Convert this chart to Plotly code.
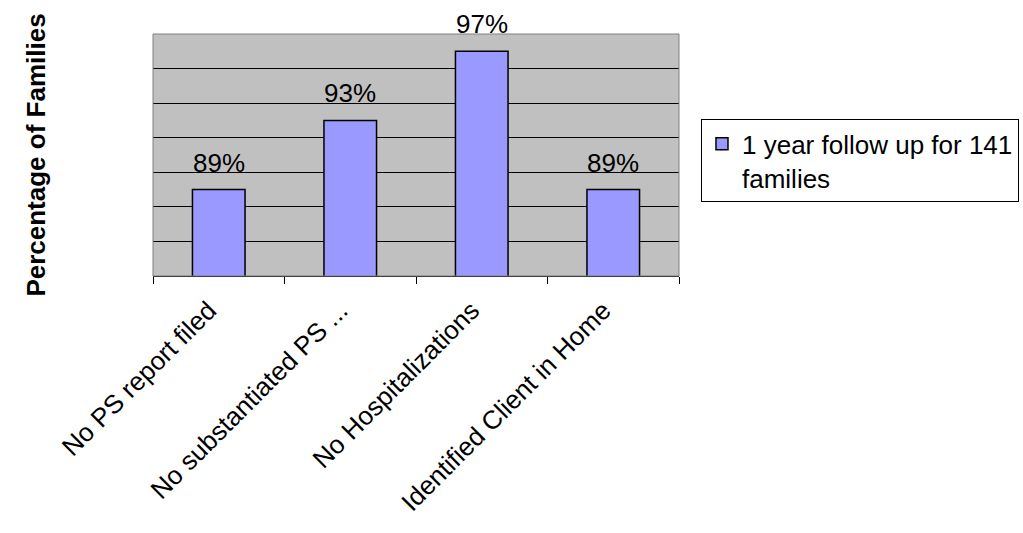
import plotly.graph_objects as go

categories = ["No PS report filed", "No substantiated PS ...", "No Hospitalizations", "Identified Client in Home"]
values = [89, 93, 97, 89]
series_name = "1 year follow up for 141<br>families"
y_title = "Percentage of Families"

FONT = "Liberation Sans, Arial, sans-serif"

fig = go.Figure()
fig.add_trace(go.Bar(
    x=categories, y=values, name=series_name,
    marker=dict(color="#9999FF", line=dict(color="black", width=1.5)),
    width=0.4, showlegend=True,
))

for c, v in zip(categories, values):
    fig.add_annotation(x=c, y=v, text=f"{v}%", showarrow=False,
                       yanchor="bottom", yshift=10,
                       font=dict(family=FONT, size=26, color="black"))

fig.update_layout(
    template="none",
    width=1023, height=533,
    margin=dict(l=153, r=344, t=34, b=257, autoexpand=False),
    paper_bgcolor="white", plot_bgcolor="#C0C0C0",
    font=dict(family=FONT, size=26, color="black"),
    bargap=0.6,
    showlegend=True,
    legend=dict(x=1.0418, y=0.6475, xanchor="left", yanchor="top",
                bordercolor="black", borderwidth=1, bgcolor="white",
                valign="top", font=dict(family=FONT, size=26, color="black")),
    xaxis=dict(tickangle=-45, tickson="boundaries", ticks="outside", ticklen=7,
               tickcolor="black", showline=True, linecolor="black", linewidth=1,
               showgrid=False, automargin=False,
               ticklabelstandoff=8, ticklabelshift=-10,
               tickfont=dict(family=FONT, size=26, color="black")),
    yaxis=dict(range=[84, 98], dtick=2, showticklabels=False, ticks="",
               showgrid=True, gridcolor="black", gridwidth=1, zeroline=False,
               showline=False, automargin=False,
               title=dict(text=f"<b>{y_title}</b>", standoff=98,
                          font=dict(family=FONT, size=26, color="black"))),
    shapes=[dict(type="rect", xref="paper", yref="paper", x0=0, x1=1, y0=0, y1=1,
                 line=dict(color="#808080", width=1), layer="above")],
)

fig.write_html("out.html")
